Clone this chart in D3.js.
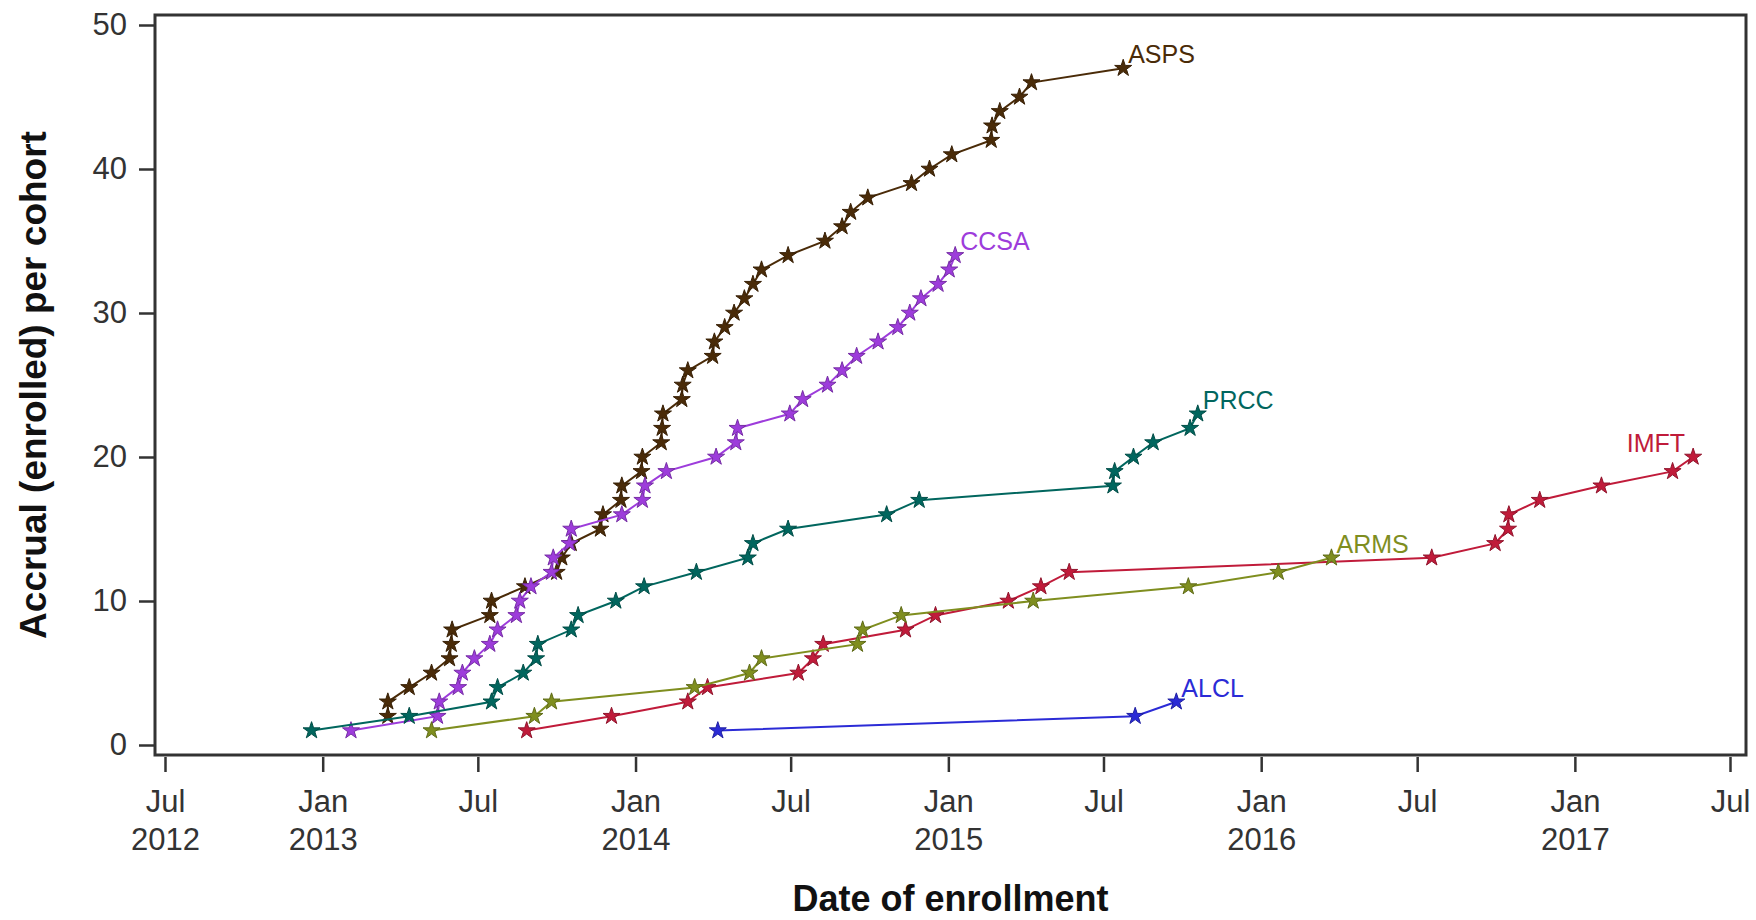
<!DOCTYPE html>
<html>
<head>
<meta charset="utf-8">
<script src="https://cdn.jsdelivr.net/npm/d3@7"></script>
<style>
    body { margin: 0; background: #fff; }
    svg { font-family: "Liberation Sans", Arial, sans-serif; }
</style>
</head>
<body>
<svg id="accrual" width="1756" height="920"></svg>
<script>
// cumulative enrolment per cohort: [date of enrollment, accrual]
var asps = [
    ["2013-03-18", 2], ["2013-03-18", 3], ["2013-04-12", 4], ["2013-05-08", 5],
    ["2013-05-29", 6], ["2013-05-31", 7], ["2013-06-01", 8], ["2013-07-15", 9],
    ["2013-07-17", 10], ["2013-08-25", 11], ["2013-10-01", 12], ["2013-10-07", 13],
    ["2013-10-18", 14], ["2013-11-21", 15], ["2013-11-24", 16], ["2013-12-15", 17],
    ["2013-12-16", 18], ["2014-01-08", 19], ["2014-01-09", 20], ["2014-01-31", 21],
    ["2014-02-01", 22], ["2014-02-02", 23], ["2014-02-24", 24], ["2014-02-25", 25],
    ["2014-03-03", 26], ["2014-04-01", 27], ["2014-04-03", 28], ["2014-04-15", 29],
    ["2014-04-26", 30], ["2014-05-08", 31], ["2014-05-18", 32], ["2014-05-28", 33],
    ["2014-06-28", 34], ["2014-08-10", 35], ["2014-08-30", 36], ["2014-09-09", 37],
    ["2014-09-29", 38], ["2014-11-19", 39], ["2014-12-10", 40], ["2015-01-05", 41],
    ["2015-02-20", 42], ["2015-02-21", 43], ["2015-03-02", 44], ["2015-03-25", 45],
    ["2015-04-08", 46], ["2015-07-24", 47]
];
var ccsa = [
    ["2013-02-03", 1], ["2013-05-15", 2], ["2013-05-17", 3], ["2013-06-08", 4],
    ["2013-06-13", 5], ["2013-06-27", 6], ["2013-07-15", 7], ["2013-07-24", 8],
    ["2013-08-15", 9], ["2013-08-19", 10], ["2013-09-01", 11], ["2013-09-25", 12],
    ["2013-09-27", 13], ["2013-10-16", 14], ["2013-10-18", 15], ["2013-12-16", 16],
    ["2014-01-09", 17], ["2014-01-12", 18], ["2014-02-06", 19], ["2014-04-05", 20],
    ["2014-04-28", 21], ["2014-04-30", 22], ["2014-06-30", 23], ["2014-07-15", 24],
    ["2014-08-13", 25], ["2014-08-30", 26], ["2014-09-16", 27], ["2014-10-11", 28],
    ["2014-11-03", 29], ["2014-11-17", 30], ["2014-11-30", 31], ["2014-12-20", 32],
    ["2015-01-02", 33], ["2015-01-09", 34]
];
var prcc = [
    ["2012-12-19", 1], ["2013-04-12", 2], ["2013-07-17", 3], ["2013-07-24", 4],
    ["2013-08-23", 5], ["2013-09-07", 6], ["2013-09-09", 7], ["2013-10-18", 8],
    ["2013-10-26", 9], ["2013-12-09", 10], ["2014-01-11", 11], ["2014-03-13", 12],
    ["2014-05-12", 13], ["2014-05-18", 14], ["2014-06-28", 15], ["2014-10-21", 16],
    ["2014-11-28", 17], ["2015-07-12", 18], ["2015-07-14", 19], ["2015-08-05", 20],
    ["2015-08-28", 21], ["2015-10-10", 22], ["2015-10-19", 23]
];
var imft = [
    ["2013-08-27", 1], ["2013-12-04", 2], ["2014-03-03", 3], ["2014-03-26", 4],
    ["2014-07-10", 5], ["2014-07-27", 6], ["2014-08-08", 7], ["2014-11-12", 8],
    ["2014-12-17", 9], ["2015-03-12", 10], ["2015-04-19", 11], ["2015-05-22", 12],
    ["2016-07-18", 13], ["2016-09-30", 14], ["2016-10-15", 15], ["2016-10-16", 16],
    ["2016-11-21", 17], ["2017-02-01", 18], ["2017-04-25", 19], ["2017-05-19", 20]
];
var arms = [
    ["2013-05-08", 1], ["2013-09-05", 2], ["2013-09-25", 3], ["2014-03-11", 4],
    ["2014-05-14", 5], ["2014-05-28", 6], ["2014-09-17", 7], ["2014-09-23", 8],
    ["2014-11-07", 9], ["2015-04-10", 10], ["2015-10-08", 11], ["2016-01-21", 12],
    ["2016-03-23", 13]
];
var alcl = [
    ["2014-04-07", 1], ["2015-08-07", 2], ["2015-09-24", 3]
];

var cohorts = ["ASPS", "CCSA", "PRCC", "IMFT", "ARMS", "ALCL"];
var cohortData = [asps, ccsa, prcc, imft, arms, alcl];
var cohortColors = ["#4a2b08", "#9d3cdb", "#01665e", "#c01b3a", "#7f8e1f", "#2b2bd6"];
var yTicks = [0, 10, 20, 30, 40, 50];
var xTicks = ["2012-07-01", "2013-01-01", "2013-07-01", "2014-01-01", "2014-07-01",
    "2015-01-01", "2015-07-01", "2016-01-01", "2016-07-01", "2017-01-01", "2017-07-01"];

var parse = d3.timeParse("%Y-%m-%d");

var svg = d3.select("svg#accrual");

var x = d3.scaleTime()
    .domain([parse("2012-07-01"), parse("2017-07-01")])
    .range([165, 1730]);
var y = d3.scaleLinear().domain([0, 50]).range([745, 25]);

var frameLeft = 155, frameRight = 1746, frameTop = 15, frameBottom = 755;

// x axis, two-line month/year labels
var xAxis = svg.append("g")
    .attr("transform", "translate(0," + (frameBottom + 2) + ")")
    .call(d3.axisBottom(x)
        .tickValues(xTicks.map(parse))
        .tickSize(15)
        .tickFormat(""));
xAxis.select(".domain").remove();
xAxis.selectAll(".tick line").attr("stroke", "#333").attr("stroke-width", 2.5);
xAxis.selectAll(".tick").each(function(d, i) {
    var t = d3.select(this).append("text")
        .attr("fill", "#333")
        .attr("font-size", "31px")
        .attr("text-anchor", "middle");
    t.append("tspan").attr("x", 0).attr("y", 55).text(d3.timeFormat("%b")(d));
    if (d.getMonth() === 0 || i === 0) {
        t.append("tspan").attr("x", 0).attr("y", 93).text(d3.timeFormat("%Y")(d));
    }
});

// y axis
var yAxis = svg.append("g")
    .attr("transform", "translate(" + (frameLeft - 1) + ",0)")
    .call(d3.axisLeft(y).tickValues(yTicks).tickSize(15).tickPadding(12));
yAxis.select(".domain").remove();
yAxis.selectAll(".tick line").attr("stroke", "#333").attr("stroke-width", 2.5);
yAxis.selectAll(".tick text")
    .attr("fill", "#333")
    .attr("font-size", "31px")
    .attr("font-family", "Liberation Sans, Arial, sans-serif");

// frame
svg.append("rect")
    .attr("x", frameLeft)
    .attr("y", frameTop)
    .attr("width", frameRight - frameLeft)
    .attr("height", frameBottom - frameTop)
    .attr("fill", "none")
    .attr("stroke", "#333")
    .attr("stroke-width", 3);

// axis titles
svg.append("text")
    .attr("x", (frameLeft + frameRight) / 2)
    .attr("y", 911)
    .attr("text-anchor", "middle")
    .attr("font-size", "36px")
    .attr("font-weight", "bold")
    .attr("fill", "#111")
    .text("Date of enrollment");

svg.append("text")
    .attr("transform", "translate(46," + (frameTop + frameBottom) / 2 + ") rotate(-90)")
    .attr("text-anchor", "middle")
    .attr("font-size", "37px")
    .attr("font-weight", "bold")
    .attr("fill", "#111")
    .text("Accrual (enrolled) per cohort");

var line = d3.line()
    .x(d => x(parse(d[0])))
    .y(d => y(d[1]));

var star = d3.symbol().type(d3.symbolStar).size(90);

var series = svg.append("g")
    .selectAll("g")
    .data(cohorts)
    .enter()
    .append("g");

series.append("path")
    .attr("d", (d, i) => line(cohortData[i]))
    .attr("fill", "none")
    .attr("stroke", (d, i) => cohortColors[i])
    .attr("stroke-width", 2);

series.each(function(name, i) {
    d3.select(this)
        .selectAll("path.pt")
        .data(cohortData[i])
        .enter()
        .append("path")
        .attr("class", "pt")
        .attr("transform", d => "translate(" + x(parse(d[0])) + "," + y(d[1]) + ")")
        .attr("d", star)
        .attr("fill", cohortColors[i])
        .attr("stroke", d3.color(cohortColors[i]).darker(0.8))
        .attr("stroke-width", 1);
});

// cohort name at the last point
series.append("text")
    .attr("x", (d, i) => {
        var last = cohortData[i][cohortData[i].length - 1];
        return x(parse(last[0])) + (d === "IMFT" ? -8 : 5);
    })
    .attr("y", (d, i) => {
        var last = cohortData[i][cohortData[i].length - 1];
        return y(last[1]) - 5;
    })
    .attr("text-anchor", d => (d === "IMFT" ? "end" : "start"))
    .attr("font-size", "25px")
    .attr("fill", (d, i) => cohortColors[i])
    .text(d => d);
</script>
</body>
</html>
